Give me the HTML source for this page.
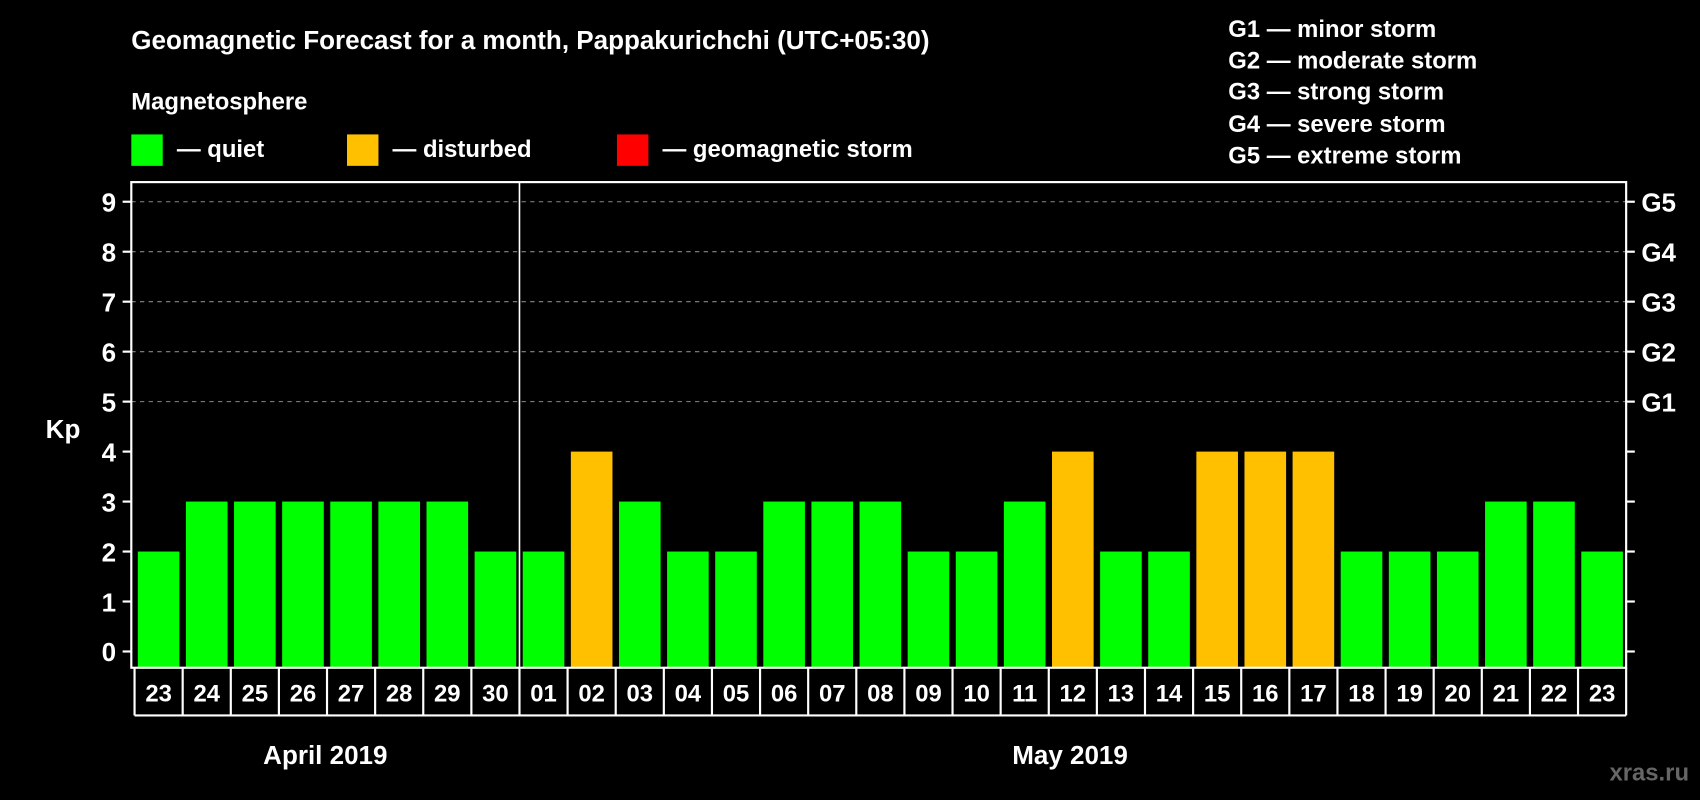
<!DOCTYPE html>
<html><head><meta charset="utf-8"><style>
html,body{margin:0;padding:0;background:#000;}
svg{display:block;font-family:"Liberation Sans",Arial,sans-serif;font-weight:bold;}
</style></head><body>
<svg id="c" width="1700" height="800" viewBox="0 0 1568 738">
<rect width="1568" height="738" fill="#000"/>
<text x="121" y="45" fill="#fff" font-size="24">Geomagnetic Forecast for a month, Pappakurichchi (UTC+05:30)</text>
<text x="121" y="101" fill="#fff" font-size="22">Magnetosphere</text>
<g><rect x="121" y="124" width="29" height="29" fill="#00ff00"/><text x="163" y="145" fill="#fff" font-size="22">— quiet</text></g>
<g><rect x="320" y="124" width="29" height="29" fill="#ffc000"/><text x="362" y="145" fill="#fff" font-size="22">— disturbed</text></g>
<g><rect x="569" y="124" width="29" height="29" fill="#ff0000"/><text x="611" y="145" fill="#fff" font-size="22">— geomagnetic storm</text></g>
<g fill="#fff" font-size="22">
<text x="1133" y="34">G1 — minor storm</text><text x="1133" y="63">G2 — moderate storm</text><text x="1133" y="92">G3 — strong storm</text><text x="1133" y="122">G4 — severe storm</text><text x="1133" y="151">G5 — extreme storm</text></g>
<text x="58" y="404" fill="#fff" font-size="24" text-anchor="middle">Kp</text>
<g id="plot"></g>
<text x="300" y="705" fill="#fff" font-size="24" text-anchor="middle">April 2019</text>
<text x="987" y="705" fill="#fff" font-size="24" text-anchor="middle">May 2019</text>
<text x="1558" y="720" fill="#666" font-size="22" text-anchor="end">xras.ru</text>
</svg>
<script>
const kp=[2,3,3,3,3,3,3,2,2,4,3,2,2,3,3,3,2,2,3,4,2,2,4,4,4,2,2,2,3,3,2];
const days=["23","24","25","26","27","28","29","30","01","02","03","04","05","06","07","08","09","10","11","12","13","14","15","16","17","18","19","20","21","22","23"];
const yTicks=[0,1,2,3,4,5,6,7,8,9];
const gLabels=["","","","","","G1","G2","G3","G4","G5"];
const NS="http://www.w3.org/2000/svg";
const g=document.getElementById('plot');
const L=121,R=1500,T=168,B=616,step=(1500-124)/31;
const y=v=>601-v*46.1;
const x=i=>124+i*step;
function mk(t,a){const e=document.createElementNS(NS,t);for(const k in a)e.setAttribute(k,a[k]);g.appendChild(e);return e;}
yTicks.forEach(v=>{
  if(v>=5){const l=mk('line',{x1:L,x2:R,y1:y(v),y2:y(v),stroke:'#888','stroke-dasharray':'4,4'});}
  const t1=mk('line',{x1:L-8,x2:L,y1:y(v),y2:y(v),stroke:'#fff','stroke-width':2});
  const t2=mk('line',{x1:R,x2:R+8,y1:y(v),y2:y(v),stroke:'#fff','stroke-width':2});
  const tl=mk('text',{x:L-14,y:y(v)+9,fill:'#fff','font-size':24,'text-anchor':'end'});tl.textContent=v;
  
  if(gLabels[v]){const gl=mk('text',{x:R+14,y:y(v)+9,fill:'#fff','font-size':24});gl.textContent=gLabels[v];
  }
});
kp.forEach((v,i)=>{
  const col=v>=5?'#ff0000':(v>=4?'#ffc000':'#00ff00');
  const r=mk('rect',{x:x(i)+3,y:y(v),width:step-6,height:B-y(v),fill:col});
  
  const t=mk('text',{x:x(i)+step/2,y:647,fill:'#fff','font-size':22,'text-anchor':'middle'});t.textContent=days[i];
  
  const d=mk('line',{x1:x(i),x2:x(i),y1:B,y2:660,stroke:'#fff','stroke-width':2});
});
const dl=mk('line',{x1:x(31),x2:x(31),y1:B,y2:660,stroke:'#fff','stroke-width':2});
const db=mk('line',{x1:x(0),x2:x(31),y1:660,y2:660,stroke:'#fff','stroke-width':2});
const sep=mk('line',{x1:x(8),x2:x(8),y1:T,y2:B,stroke:'#fff','stroke-width':1.5});
const fr=mk('rect',{x:L,y:T,width:R-L,height:B-T,fill:'none',stroke:'#fff','stroke-width':2});
</script>
</body></html>
